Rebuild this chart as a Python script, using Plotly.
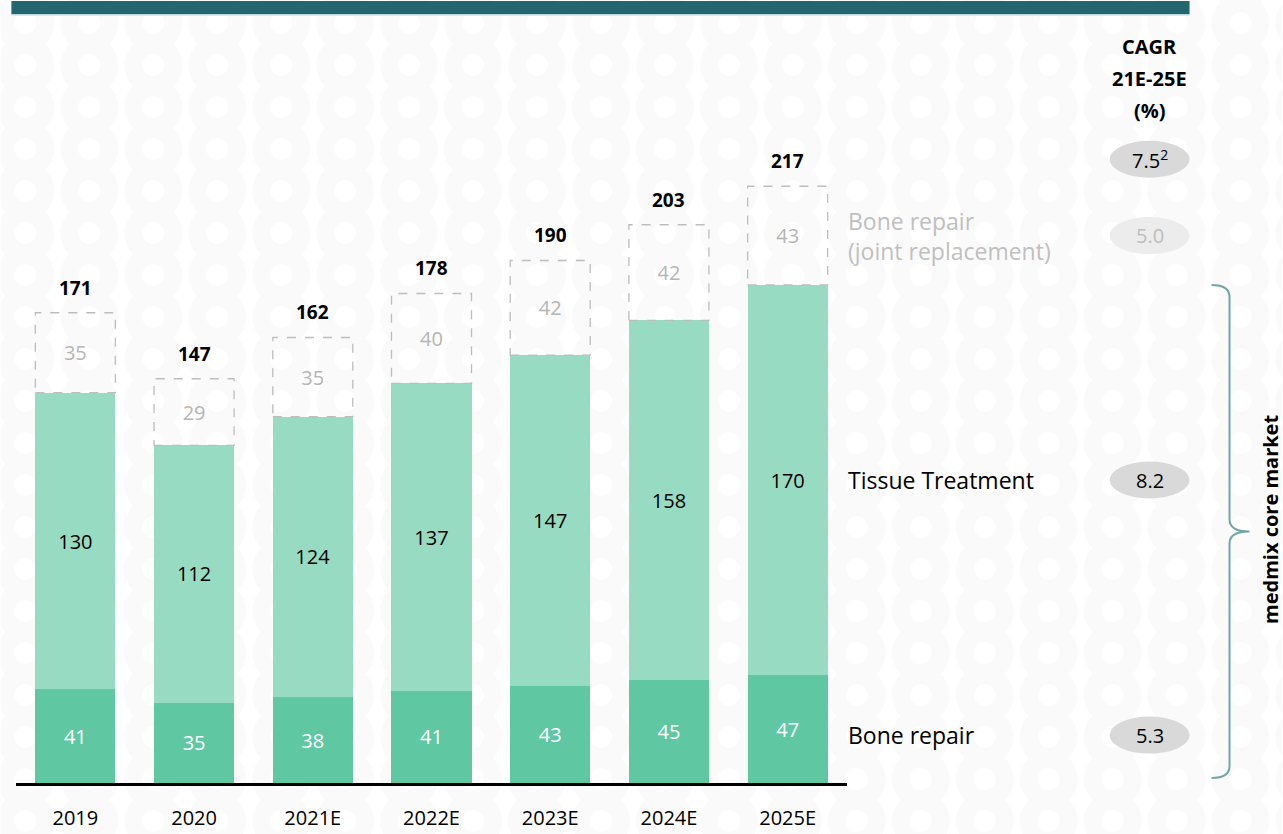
import base64
import plotly.graph_objects as go

# Market size by year (totals) and segment values
years = ["2019", "2020", "2021E", "2022E", "2023E", "2024E", "2025E"]
totals = [171, 147, 162, 178, 190, 203, 217]
bone_repair = [41, 35, 38, 41, 43, 45, 47]
tissue_treatment = [130, 112, 124, 137, 147, 158, 170]
joint_replacement = [35, 29, 35, 40, 42, 42, 43]

# CAGR 21E-25E (%)
cagr_total = "7.5<sup>2</sup>"
cagr_joint = "5.0"
cagr_tissue = "8.2"
cagr_bone = "5.3"

FONT = "Open Sans"
C_BONE = "#5fc8a3"
C_TISSUE = "#97dbc2"
C_DASH = "#bdbdbd"
C_GREYTXT = "#b5b5b5"

W, H = 1283, 834
L, R, T, B = 15.6, 1283 - 847.2, 20, 51
PW = W - L - R
PH = H - T - B


def xp(px):
    return (px - L) / PW


def yp(py):
    return (H - B - py) / PH


# each bar is split into segments in proportion to the segment values
scale = [t / (b + s + j) for t, b, s, j in zip(totals, bone_repair, tissue_treatment, joint_replacement)]
bone_h = [v * k for v, k in zip(bone_repair, scale)]
tissue_h = [v * k for v, k in zip(tissue_treatment, scale)]
joint_h = [v * k for v, k in zip(joint_replacement, scale)]
core_top = [b + s for b, s in zip(bone_h, tissue_h)]

BAR_W = 0.674
fig = go.Figure()
for vals, labels, color, tcolor in [
    (bone_h, bone_repair, C_BONE, "white"),
    (tissue_h, tissue_treatment, C_TISSUE, "black"),
    (joint_h, joint_replacement, "rgba(0,0,0,0)", C_GREYTXT),
]:
    fig.add_bar(
        x=years, y=vals, text=[str(v) for v in labels],
        textposition="inside", insidetextanchor="middle", textangle=0,
        textfont=dict(family=FONT, size=20, color=tcolor),
        marker=dict(color=color, line=dict(width=0)),
        width=BAR_W, hoverinfo="skip", showlegend=False,
    )

shapes = []
annotations = []

# dashed outline of the joint replacement segment, and totals above bars
for i, yr in enumerate(years):
    shapes.append(dict(
        type="rect", xref="x", yref="y",
        x0=i - BAR_W / 2, x1=i + BAR_W / 2, y0=core_top[i], y1=totals[i],
        line=dict(color=C_DASH, width=1.3, dash="dash"), fillcolor="rgba(0,0,0,0)",
    ))
    annotations.append(dict(
        x=i, y=totals[i], xref="x", yref="y", text=f"<b>{totals[i]}</b>",
        showarrow=False, xanchor="center", yanchor="bottom", yshift=10,
        font=dict(family=FONT, size=19, color="black"),
    ))

# top banner
shapes.append(dict(type="rect", xref="paper", yref="paper",
                   x0=xp(11), x1=xp(1190), y0=yp(14), y1=yp(1),
                   fillcolor="#22666e", line=dict(width=0), layer="above"))
shapes.append(dict(type="rect", xref="paper", yref="paper",
                   x0=xp(11), x1=xp(1190), y0=yp(15.5), y1=yp(14),
                   fillcolor="#b9d8de", line=dict(width=0), layer="above"))

# segment names next to the last bar
last = len(years) - 1
seg_mid_joint = (core_top[last] + totals[last]) / 2
seg_mid_tissue = (bone_h[last] + core_top[last]) / 2
seg_mid_bone = bone_h[last] / 2
LBL_X = xp(846)
annotations += [
    dict(x=LBL_X, y=seg_mid_joint, xref="paper", yref="y", xanchor="left",
         text="Bone repair<br>(joint replacement)", align="left", showarrow=False,
         font=dict(family=FONT, size=23, color="#bfbfbf")),
    dict(x=LBL_X, y=seg_mid_tissue, xref="paper", yref="y", xanchor="left",
         text="Tissue Treatment", showarrow=False,
         font=dict(family=FONT, size=23, color="black")),
    dict(x=LBL_X, y=seg_mid_bone, xref="paper", yref="y", xanchor="left", yshift=-6,
         text="Bone repair", showarrow=False,
         font=dict(family=FONT, size=23, color="black")),
]

# CAGR column
CX = 1150
for txt, py in [("CAGR", 47), ("21E-25E", 79), ("(%)", 110)]:
    annotations.append(dict(
        x=xp(CX), y=yp(py), xref="paper", yref="paper", xanchor="center", yanchor="middle",
        text=f"<b>{txt}</b>", showarrow=False,
        font=dict(family=FONT, size=20, color="black"),
    ))
pills = [
    (totals[last], cagr_total, "#d9d9d9", "black", 27),
    (seg_mid_joint, cagr_joint, "#ececec", "#bdbdbd", 0),
    (seg_mid_tissue, cagr_tissue, "#d9d9d9", "black", 0),
    (seg_mid_bone, cagr_bone, "#d9d9d9", "black", -6),
]
ppu = PH / 277.45
for yv, txt, fill, tcol, shift in pills:
    ycen = yv + shift / ppu
    shapes.append(dict(type="circle", xref="paper", yref="y",
                       x0=xp(CX - 40), x1=xp(CX + 40),
                       y0=ycen - 18.5 / ppu, y1=ycen + 18.5 / ppu,
                       fillcolor=fill, line=dict(width=0)))
    annotations.append(dict(x=xp(CX), y=ycen, xref="paper", yref="y", text=txt,
                            xanchor="center", yanchor="middle",
                            showarrow=False, font=dict(family=FONT, size=20, color=tcol)))

# bracket grouping the core market segments
bx = xp(1230)
bl = xp(1212)
br = xp(1250)
top = core_top[last]
bot = 5 / ppu
mid = (top + bot) / 2
d = 12 / ppu
path = (f"M {bl},{top} Q {bx},{top} {bx},{top - d} "
        f"L {bx},{mid + d} Q {bx},{mid} {br},{mid} Q {bx},{mid} {bx},{mid - d} "
        f"L {bx},{bot + d} Q {bx},{bot} {bl},{bot}")
shapes.append(dict(type="path", xref="paper", yref="y", path=path,
                   line=dict(color="#6ea7ab", width=2)))
annotations.append(dict(x=xp(1271), y=mid + 12 / ppu, xref="paper", yref="y",
                        xanchor="center", yanchor="middle",
                        text="<b>medmix core market</b>", textangle=-90, showarrow=False,
                        font=dict(family=FONT, size=20, color="black")))

# faint ring texture behind the page
RING = "#fafafa"
svg = f"""<svg xmlns="http://www.w3.org/2000/svg" width="{W}" height="{H}">
<defs><pattern id="rings" patternUnits="userSpaceOnUse" x="-7" y="2" width="64" height="42">
<circle cx="32" cy="-21" r="29" fill="{RING}"/><circle cx="32" cy="21" r="29" fill="{RING}"/>
<circle cx="32" cy="63" r="29" fill="{RING}"/>
<circle cx="32" cy="-21" r="11" fill="#ffffff"/><circle cx="32" cy="21" r="11" fill="#ffffff"/>
<circle cx="32" cy="63" r="11" fill="#ffffff"/>
</pattern></defs>
<rect width="{W}" height="{H}" fill="url(#rings)"/></svg>"""
src = "data:image/svg+xml;base64," + base64.b64encode(svg.encode()).decode()

fig.update_layout(
    width=W, height=H,
    margin=dict(l=L, r=R, t=T, b=B, pad=0, autoexpand=False),
    barmode="stack",
    bargap=0.326,
    paper_bgcolor="white", plot_bgcolor="rgba(0,0,0,0)",
    shapes=shapes, annotations=annotations,
    images=[dict(source=src, xref="paper", yref="paper", x=xp(0), y=yp(0),
                 sizex=W / PW, sizey=H / PH, xanchor="left", yanchor="top",
                 sizing="stretch", layer="below")],
    xaxis=dict(
        type="category", range=[-0.5, len(years) - 0.5],
        showline=True, linecolor="black", linewidth=2.5,
        showgrid=False, zeroline=False, ticks="", automargin=False,
        tickfont=dict(family=FONT, size=20, color="black"),
        ticklabelstandoff=15,
    ),
    yaxis=dict(range=[0, 277.45], visible=False, showgrid=False, zeroline=False,
               automargin=False),
)

fig.write_html("out.html")
